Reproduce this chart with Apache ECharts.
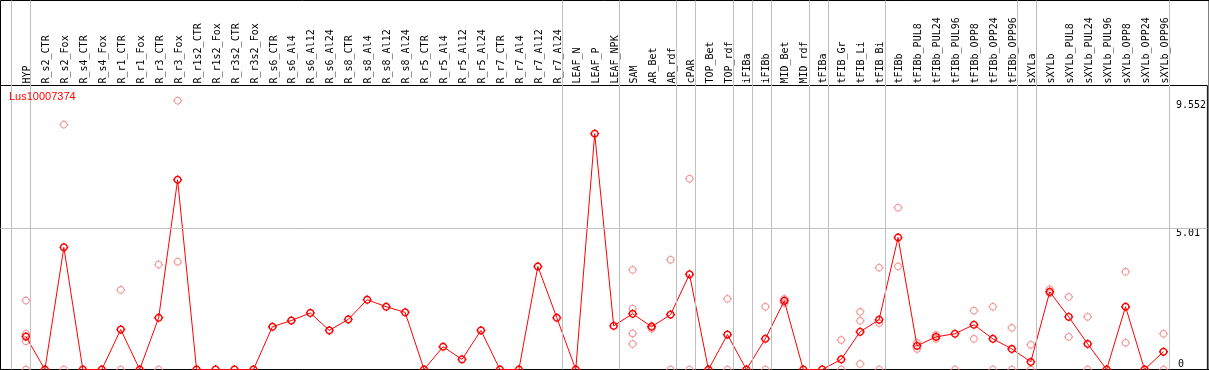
<!DOCTYPE html>
<html>
<head>
<meta charset="utf-8">
<script src="https://cdn.jsdelivr.net/npm/echarts@6/dist/echarts.min.js"></script>
<style>
  html, body { margin: 0; padding: 0; background: #fff; }
  #chart { width: 1209px; height: 370px; }
</style>
</head>
<body>
<div id="chart"></div>
<script>
// ---- data ----
const categories = [
  'HYP', 'R_s2_CTR', 'R_s2_Fox', 'R_s4_CTR', 'R_s4_Fox', 'R_r1_CTR', 'R_r1_Fox', 'R_r3_CTR', 'R_r3_Fox',
  'R_r1s2_CTR', 'R_r1s2_Fox', 'R_r3s2_CTR', 'R_r3s2_Fox', 'R_s6_CTR', 'R_s6_Al4', 'R_s6_Al12', 'R_s6_Al24',
  'R_s8_CTR', 'R_s8_Al4', 'R_s8_Al12', 'R_s8_Al24', 'R_r5_CTR', 'R_r5_Al4', 'R_r5_Al12', 'R_r5_Al24',
  'R_r7_CTR', 'R_r7_Al4', 'R_r7_Al12', 'R_r7_Al24', 'LEAF_N', 'LEAF_P', 'LEAF_NPK', 'SAM', 'AR_Bet', 'AR_rdf',
  'cPAR', 'TOP_Bet', 'TOP_rdf', 'iFIBa', 'iFIBb', 'MID_Bet', 'MID_rdf', 'tFIBa', 'tFIB_Gr', 'tFIB_Li', 'tFIB_Bi',
  'tFIBb', 'tFIBb_PUL8', 'tFIBb_PUL24', 'tFIBb_PUL96', 'tFIBb_OPP8', 'tFIBb_OPP24', 'tFIBb_OPP96', 'sXYLa',
  'sXYLb', 'sXYLb_PUL8', 'sXYLb_PUL24', 'sXYLb_PUL96', 'sXYLb_OPP8', 'sXYLb_OPP24', 'sXYLb_OPP96'
];
const meanValues = [
  1.17, 0, 4.34, 0, 0, 1.42, 0, 1.84, 6.74, 0, 0, 0, 0, 1.52, 1.74, 2.01, 1.39, 1.78, 2.48, 2.23, 2.03,
  0, 0.81, 0.36, 1.39, 0, 0, 3.66, 1.84, 0, 8.38, 1.55, 1.98, 1.52, 1.95, 3.38, 0, 1.24, 0, 1.09, 2.44,
  0, 0, 0.36, 1.34, 1.77, 4.69, 0.84, 1.16, 1.27, 1.59, 1.09, 0.73, 0.27, 2.76, 1.87, 0.91, 0, 2.23, 0, 0.63
];
// replicate measurements: category index and value
const repCategory = [
  0, 0, 0, 0, 2, 2, 5, 5, 7, 7, 8, 8,
  32, 32, 32, 32, 33, 33, 34, 34, 35, 35, 37, 37, 39, 39, 40, 40,
  43, 43, 44, 44, 44, 45, 45, 45, 46, 46, 47, 47, 48, 48, 49,
  50, 50, 51, 51, 52, 52, 53, 53, 54, 54, 55, 55, 56, 56, 58, 58, 60, 60
];
const repValue = [
  2.45, 1.27, 1.0, 0, 8.70, 0, 2.83, 0, 3.73, 0, 9.552, 3.83,
  3.54, 2.16, 1.28, 0.91, 1.55, 1.45, 3.90, 0, 6.78, 0, 2.51, 0, 2.23, 0, 2.51, 2.36,
  1.05, 0, 2.05, 1.73, 0.2, 3.62, 1.65, 0, 5.75, 3.66, 0.95, 0.73, 1.23, 1.09, 0,
  2.09, 1.09, 2.23, 0, 1.48, 0, 0.88, 0, 2.85, 2.71, 2.58, 1.16, 1.87, 0, 3.47, 0.95, 1.27, 0
];
// group separators are drawn just after these category indices
const separatorAfter = [-1, 0, 28, 31, 34, 35, 37, 38, 39, 41, 42, 45, 52, 53, 60];
const yTickLabels = [5.01, 9.552];
const yZeroLabel = [0];
const gridValue = 5.01;
const yMax = 10.09;

// ---- layout helpers ----
const firstX = 26, step = 19, leftEdge = 0.5, rightEdge = 1210;
const xMin = (leftEdge - firstX) / step;
const xMax = (rightEdge - firstX) / step;
const sepOffset = 4.5 / step;
const labelShift = 1.5 / step;

// circle-with-ticks marker, built as a polygon path
function ringPath(r, t) {
  let p = `M0,${-t}L0,${-r}M0,${r}L0,${t}M${-t},0L${-r},0M${r},0L${t},0`;
  const n = 24;
  for (let k = 0; k <= n; k++) {
    const a = (k / n) * Math.PI * 2;
    const x = (r * Math.cos(a)).toFixed(3), y = (r * Math.sin(a)).toFixed(3);
    p += (k === 0 ? 'M' : 'L') + x + ',' + y;
  }
  return 'path://' + p + 'Z';
}
const marker = ringPath(3.3, 4.5);
const mono = 'DejaVu Sans Mono';

const chart = echarts.init(document.getElementById('chart'), null, { renderer: 'canvas' });
const option = {
  animation: false,
  backgroundColor: '#fff',
  title: {
    text: 'Lus10007374', left: 9, top: 91, padding: 0,
    textStyle: { color: '#ff0000', fontSize: 11, fontWeight: 'normal', fontFamily: 'Liberation Sans' }
  },
  grid: [
    { left: leftEdge, right: 1209 - rightEdge, top: 0.5, bottom: 0.5, show: true, borderColor: '#000', borderWidth: 1, backgroundColor: 'transparent' },
    { left: leftEdge, right: 1209 - rightEdge, top: 85.5, bottom: 0.5, show: true, borderColor: '#000', borderWidth: 1, backgroundColor: 'transparent' }
  ],
  xAxis: [
    { gridIndex: 0, type: 'value', min: xMin, max: xMax, show: false },
    {
      gridIndex: 1, type: 'value', min: xMin, max: xMax, position: 'top',
      axisLine: { show: false }, axisTick: { show: false }, splitLine: { show: false },
      axisLabel: {
        customValues: categories.map((c, i) => i + labelShift),
        formatter: v => categories[Math.round(v)],
        rotate: 90, margin: 2, fontFamily: mono, fontSize: 10, color: '#000'
      }
    }
  ],
  yAxis: [
    { gridIndex: 0, type: 'value', min: 0, max: 1, show: false },
    {
      gridIndex: 1, type: 'value', min: 0, max: yMax, position: 'right',
      axisLine: { show: false }, axisTick: { show: false }, splitLine: { show: false },
      axisLabel: {
        inside: true, customValues: yTickLabels, formatter: v => String(v),
        align: 'left', verticalAlign: 'top', margin: rightEdge - 1178.5,
        fontFamily: mono, fontSize: 10, color: '#000'
      }
    },
    {
      gridIndex: 1, type: 'value', min: 0, max: yMax, position: 'right',
      axisLine: { show: false }, axisTick: { show: false }, splitLine: { show: false },
      axisLabel: {
        inside: true, customValues: yZeroLabel, formatter: v => String(v),
        align: 'left', verticalAlign: 'bottom', margin: rightEdge - 1180.5,
        fontFamily: mono, fontSize: 10, color: '#000'
      }
    }
  ],
  series: [
    {
      type: 'line', xAxisIndex: 0, yAxisIndex: 0, data: [], silent: true, z: 1,
      markLine: {
        silent: true, symbol: ['none', 'none'], label: { show: false },
        lineStyle: { color: '#c0c0c0', type: 'solid', width: 1 },
        emphasis: { disabled: true },
        data: separatorAfter.map(k => ({ xAxis: k + sepOffset }))
      }
    },
    {
      type: 'line', xAxisIndex: 1, yAxisIndex: 1, data: [], silent: true, z: 1,
      markLine: {
        silent: true, symbol: ['none', 'none'], label: { show: false },
        lineStyle: { color: '#c0c0c0', type: 'solid', width: 1 },
        emphasis: { disabled: true },
        data: [{ yAxis: gridValue }]
      }
    },
    {
      type: 'scatter', xAxisIndex: 1, yAxisIndex: 1, z: 2, silent: true,
      data: repValue.map((v, j) => [repCategory[j], v]),
      symbol: marker, symbolSize: 9,
      itemStyle: { color: 'rgba(0,0,0,0)', borderColor: '#f08080', borderWidth: 1.1 }
    },
    {
      type: 'line', xAxisIndex: 1, yAxisIndex: 1, z: 3, silent: true, clip: false,
      data: meanValues.map((v, i) => [i, v]),
      showAllSymbol: true, symbol: marker, symbolSize: 9,
      lineStyle: { color: '#ff0000', width: 1 },
      itemStyle: { color: 'rgba(0,0,0,0)', borderColor: '#ff0000', borderWidth: 1.4 }
    }
  ]
};
chart.setOption(option);
</script>
</body>
</html>
